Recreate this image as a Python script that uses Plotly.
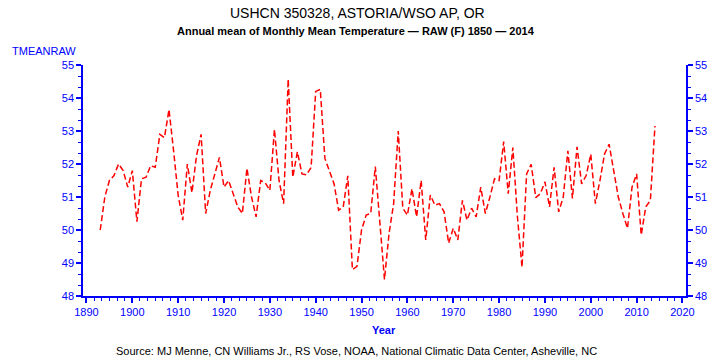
import plotly.graph_objects as go

years = list(range(1893, 2015))
tmean_raw = [
    50.0, 51.0, 51.5, 51.65, 52.0, 51.8, 51.3, 51.8, 50.25, 51.55,   # 1893-1902
    51.6, 51.95, 51.9, 52.9, 52.8, 53.65, 52.4, 51.05, 50.3, 52.0,   # 1903-1912
    51.13, 52.25, 52.9, 50.5, 51.2, 51.7, 52.2, 51.3, 51.5, 51.1,    # 1913-1922
    50.7, 50.5, 51.87, 51.0, 50.4, 51.5, 51.43, 51.2, 53.05, 51.5,   # 1923-1932
    50.8, 54.57, 51.6, 52.37, 51.7, 51.67, 51.9, 54.2, 54.26, 52.17, # 1933-1942
    51.8, 51.4, 50.6, 50.7, 51.64, 48.8, 48.9, 50.0, 50.45, 50.5,    # 1943-1952
    51.92, 50.3, 48.5, 49.9, 50.8, 53.0, 50.66, 50.45, 51.25, 50.4,  # 1953-1962
    51.5, 49.7, 51.06, 50.75, 50.8, 50.55, 49.6, 50.05, 49.7, 50.9,  # 1963-1972
    50.3, 50.66, 50.4, 51.3, 50.5, 51.0, 51.55, 51.5, 52.68, 51.1,   # 1973-1982
    52.5, 50.4, 48.87, 51.7, 51.99, 50.98, 51.1, 51.46, 50.7, 51.9,  # 1983-1992
    50.55, 51.0, 52.4, 50.96, 52.52, 51.4, 51.65, 52.3, 50.8, 51.5,  # 1993-2002
    52.3, 52.6, 51.8, 51.0, 50.5, 50.05, 51.3, 51.7, 49.85, 50.7,    # 2003-2012
    50.9, 53.15,                                                     # 2013-2014
]

x_ticks = list(range(1890, 2021, 10))
y_ticks = list(range(48, 56))

title = "USHCN 350328, ASTORIA/WSO AP, OR"
subtitle = "Annual mean of Monthly Mean Temperature \u2014 RAW (F) 1850 \u2014 2014"
y_title = "TMEANRAW"
x_title = "Year"
source = "Source: MJ Menne, CN Williams Jr., RS Vose, NOAA, National Climatic Data Center, Asheville, NC"

BLUE = "#0000FF"
FONT = "Liberation Sans, Arial, sans-serif"

fig = go.Figure()
fig.add_trace(go.Scatter(
    x=years, y=tmean_raw, mode="lines",
    line=dict(color="#FF0000", width=1.5, dash="6px,3px"),
    showlegend=False, hoverinfo="x+y",
))
fig.add_trace(go.Scatter(
    x=years, y=tmean_raw, mode="lines", yaxis="y2",
    line=dict(color="rgba(0,0,0,0)", width=0),
    showlegend=False, hoverinfo="skip",
))

axis_common = dict(
    showline=True, linecolor=BLUE, linewidth=1.5,
    ticks="outside", ticklen=5, tickwidth=1.5, tickcolor=BLUE,
    tickfont=dict(family=FONT, size=11, color=BLUE),
    showgrid=False, zeroline=False,
)

fig.update_layout(
    width=719, height=360,
    margin=dict(l=83, r=29, t=65, b=64),
    paper_bgcolor="white", plot_bgcolor="white",
    font=dict(family=FONT, color="black"),
    xaxis=dict(
        range=[1889.24, 2020.77], tickvals=x_ticks,
        minor=dict(dtick=10 / 6, tick0=1890, ticks="outside", ticklen=3, tickcolor=BLUE, tickwidth=1),
        **axis_common,
    ),
    yaxis=dict(
        range=[48, 55], tickvals=y_ticks,
        minor=dict(dtick=1 / 3, tick0=48, ticks="outside", ticklen=3, tickcolor=BLUE, tickwidth=1),
        **axis_common,
    ),
    yaxis2=dict(
        range=[48, 55], tickvals=y_ticks, overlaying="y", side="right",
        minor=dict(dtick=1 / 3, tick0=48, ticks="outside", ticklen=3, tickcolor=BLUE, tickwidth=1),
        **axis_common,
    ),
    annotations=[
        dict(text=title, x=(359 - 83) / 607, y=(296 - 13) / 231, xref="paper", yref="paper",
             xanchor="center", yanchor="middle", showarrow=False,
             font=dict(family=FONT, size=14, color="black")),
        dict(text="<b>" + subtitle + "</b>", x=(358 - 83) / 607, y=(296 - 31.5) / 231, xref="paper", yref="paper",
             xanchor="center", yanchor="middle", showarrow=False,
             font=dict(family=FONT, size=11, color="black")),
        dict(text=y_title, x=(10 - 83) / 607, y=(296 - 51.5) / 231, xref="paper", yref="paper",
             xanchor="left", yanchor="middle", showarrow=False,
             font=dict(family=FONT, size=11, color=BLUE)),
        dict(text="<b>" + x_title + "</b>", x=(386 - 83) / 607, y=(296 - 330) / 231, xref="paper", yref="paper",
             xanchor="center", yanchor="middle", showarrow=False,
             font=dict(family=FONT, size=11, color=BLUE)),
        dict(text=source, x=(358 - 83) / 607, y=(296 - 351) / 231, xref="paper", yref="paper",
             xanchor="center", yanchor="middle", showarrow=False,
             font=dict(family=FONT, size=11, color="black")),
    ],
)

fig.write_html(
    "out.html",
    config={"displayModeBar": False},
    post_script="document.body.style.margin='0';document.body.style.overflow='hidden';",
)
